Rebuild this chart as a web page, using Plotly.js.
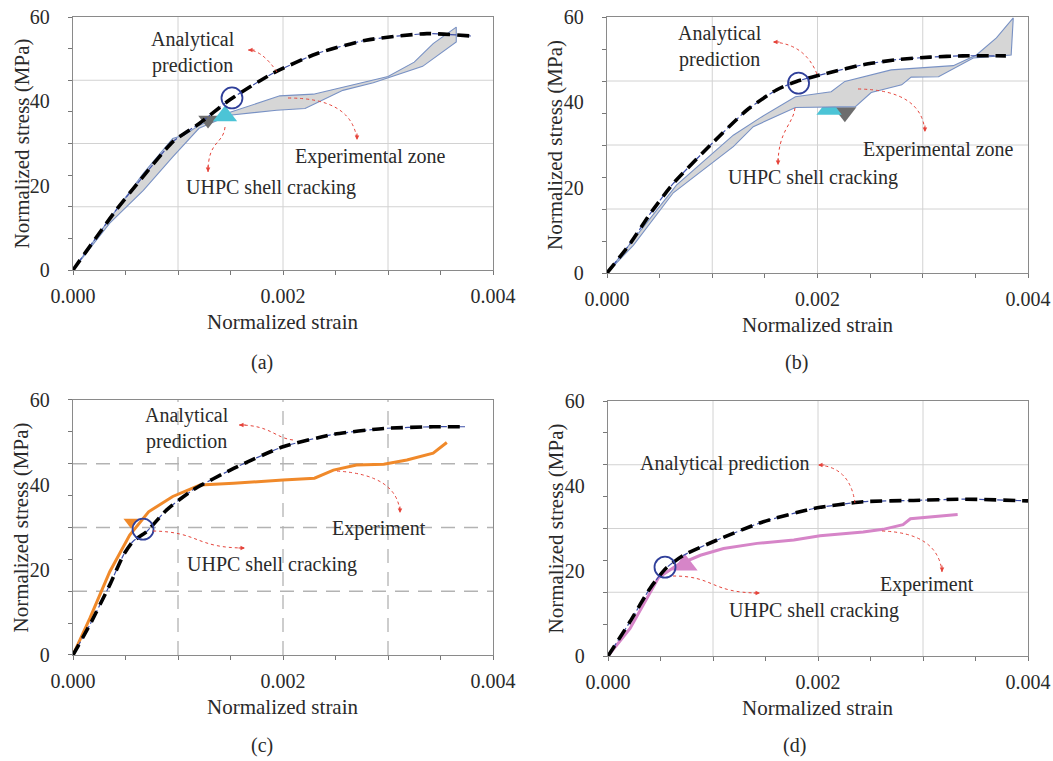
<!DOCTYPE html>
<html>
<head>
<meta charset="utf-8">
<script src="https://cdn.plot.ly/plotly-3.0.1.min.js"></script>
<style>
html,body{margin:0;padding:0;background:#fff;}
#chart{width:1053px;height:761px;}
</style>
</head>
<body>
<div id="chart"></div>
<script>
// ---------------- DATA ----------------
// Panel (a)
const strainA_analytical = [0, 0.00041, 0.00064, 0.00095, 0.0012, 0.00149, 0.0019, 0.00232, 0.00279, 0.00337, 0.00379];
const stressA_analytical = [0, 14.2, 21.3, 30.4, 34.7, 40.3, 46.6, 51.3, 54.5, 56.05, 55.5];
const zoneA_strain = [0, 0.00035, 0.00067, 0.00095, 0.00106, 0.0012, 0.00146, 0.00197, 0.00229, 0.00257, 0.0030, 0.00325, 0.00343, 0.00365, 0.00365,
                      0.00333, 0.00286, 0.00257, 0.00221, 0.00194, 0.00149, 0.0012, 0.00095, 0.00067, 0.00035, 0];
const zoneA_stress = [0, 12.2, 22.9, 31.2, 32.0, 34.3, 37.1, 41.3, 41.7, 43.3, 45.9, 49.3, 53.7, 57.6, 54.1,
                      48.3, 44.4, 42.6, 38.3, 37.9, 36.7, 33.6, 26.8, 18.9, 11.1, 0];
const crackA_strain = [0.001286, 0.001448];
const crackA_stress = [35.6, 36.5];
const predCrackA = {strain: [0.001514], stress: [40.8]};

// Panel (b)
const strainB_analytical = [0, 0.00022, 0.00041, 0.00063, 0.0010, 0.00133, 0.00161, 0.0018, 0.00212, 0.00243, 0.00275, 0.00307, 0.00338, 0.00379];
const stressB_analytical = [0, 6.9, 13.9, 21.0, 30.4, 38.2, 42.9, 44.9, 47.0, 48.8, 50.0, 50.6, 50.9, 50.9];
const zoneB_strain = [0, 0.00025, 0.00066, 0.0012, 0.00145, 0.00179, 0.00213, 0.00226, 0.0027, 0.00329, 0.00351, 0.0037, 0.00386, 0.00384,
                      0.00348, 0.00315, 0.00289, 0.0028, 0.00251, 0.00236, 0.00179, 0.00139, 0.0012, 0.00063, 0.00025, 0];
const zoneB_stress = [0, 7.7, 20.6, 32.3, 36.3, 41.3, 42.5, 44.9, 47.6, 48.6, 51.1, 55.1, 59.8, 51.1,
                      50.4, 46.0, 45.9, 44.1, 42.3, 39.0, 38.8, 34.3, 29.6, 18.8, 6.5, 0];
const crackB_strain = [0.00226, 0.00211];
const crackB_stress = [37.7, 38.4];
const predCrackB = {strain: [0.00182], stress: [44.5]};

// Panel (c)
const strainC_analytical = [0, 0.00016, 0.00035, 0.00048, 0.00057, 0.0007, 0.00089, 0.00114, 0.00153, 0.0020, 0.00248, 0.00296, 0.00343, 0.00374];
const stressC_analytical = [0, 7.1, 16.5, 23.5, 26.7, 29.0, 34.1, 38.8, 43.9, 49.0, 51.9, 53.3, 53.7, 53.7];
const strainC_experiment = [0, 0.00016, 0.00035, 0.00054, 0.00072, 0.00095, 0.00121, 0.00153, 0.0020, 0.0023, 0.00248, 0.0027, 0.00296, 0.00318, 0.00343, 0.00356];
const stressC_experiment = [0, 8.6, 19.6, 28.2, 33.7, 37.3, 40.0, 40.4, 41.2, 41.6, 43.5, 44.7, 44.9, 45.9, 47.5, 50.0];
const crackC = {strain: [0.000552], stress: [31.3]};
const predCrackC = {strain: [0.000667], stress: [29.6]};

// Panel (d)
const strainD_analytical = [0, 0.00021, 0.0004, 0.00055, 0.00072, 0.00104, 0.00148, 0.00196, 0.00243, 0.00291, 0.00338, 0.0040];
const stressD_analytical = [0, 8.1, 15.9, 20.6, 23.7, 27.3, 31.6, 34.7, 36.3, 36.6, 36.9, 36.5];
const strainD_experiment = [0, 0.00021, 0.00048, 0.00066, 0.00088, 0.0011, 0.00142, 0.00177, 0.00202, 0.00243, 0.00262, 0.00281, 0.00288, 0.00306, 0.00333];
const stressD_experiment = [0, 6.5, 18.4, 21.4, 23.7, 25.3, 26.5, 27.3, 28.3, 29.2, 29.8, 30.9, 32.3, 32.7, 33.3];
const crackD = {strain: [0.000733], stress: [21.4]};
const predCrackD = {strain: [0.000543], stress: [20.9]};

// Axis tick labels and titles
const xTickVals = [0, 0.002, 0.004];
const xTickText = ['0.000', '0.002', '0.004'];
const yTickVals = [0, 20, 40, 60];
const yTickText = ['0', '20', '40', '60'];
const xGrid = [0.001, 0.002, 0.003];
const yGrid = [15, 30, 45];
const xTitle = 'Normalized strain';
const yTitle = 'Normalized stress (MPa)';
const panelLabels = ['(a)', '(b)', '(c)', '(d)'];

// ---------------- STYLE ----------------
const FONT = 'Liberation Serif';
const TXT = '#2a2a2a';
const RED = '#e5433a';
const NAVY = '#2f3f9a';
const CYAN = '#4cc4d6';
const GRAYM = '#6d6d6d';
const ZONE_FILL = '#d6d6d6';
const ZONE_LINE = '#7891c4';

const traces = [];
function sfx(i){ return i === 1 ? '' : String(i); }

function analytical(i, xs, ys){
  traces.push({x: xs, y: ys, xaxis: 'x'+sfx(i), yaxis: 'y'+sfx(i), mode: 'lines', line: {color: '#3d4fa8', width: 1.2, shape: 'spline', smoothing: 0.6, dash: '6px,3px'}, hoverinfo: 'skip', showlegend: false});
  traces.push({x: xs, y: ys, xaxis: 'x'+sfx(i), yaxis: 'y'+sfx(i), mode: 'lines', line: {color: '#000', width: 3.6, shape: 'spline', smoothing: 0.6, dash: '12px,7px'}, showlegend: false});
}
function zone(i, xs, ys){
  traces.push({x: xs, y: ys, xaxis: 'x'+sfx(i), yaxis: 'y'+sfx(i), mode: 'lines', fill: 'toself', fillcolor: ZONE_FILL, line: {color: ZONE_LINE, width: 1.1}, showlegend: false});
}
function marker(i, xs, ys, sym, color, size){
  traces.push({x: xs, y: ys, xaxis: 'x'+sfx(i), yaxis: 'y'+sfx(i), mode: 'markers', marker: {symbol: sym, color: color, size: size, line: {width: 0}}, showlegend: false});
}
function circle(i, p){
  traces.push({x: p.strain, y: p.stress, xaxis: 'x'+sfx(i), yaxis: 'y'+sfx(i), mode: 'markers', marker: {symbol: 'circle-open', color: NAVY, size: 21, line: {width: 1.8, color: NAVY}}, showlegend: false});
}
function expLine(i, xs, ys, color){
  traces.push({x: xs, y: ys, xaxis: 'x'+sfx(i), yaxis: 'y'+sfx(i), mode: 'lines', line: {color: color, width: 3}, showlegend: false});
}

// (a)
zone(1, zoneA_strain, zoneA_stress);
marker(1, [crackA_strain[0]], [crackA_stress[0]], 'triangle-down', GRAYM, 17);
marker(1, [crackA_strain[1]], [crackA_stress[1]], 'triangle-up', CYAN, 21);
analytical(1, strainA_analytical, stressA_analytical);
circle(1, predCrackA);
// (b)
marker(2, [crackB_strain[0]], [crackB_stress[0]], 'triangle-down', GRAYM, 20);
marker(2, [crackB_strain[1]], [crackB_stress[1]], 'triangle-up', CYAN, 22);
zone(2, zoneB_strain, zoneB_stress);
analytical(2, strainB_analytical, stressB_analytical);
circle(2, predCrackB);
// (c)
expLine(3, strainC_experiment, stressC_experiment, '#f0892a');
marker(3, crackC.strain, crackC.stress, 'triangle-down', '#f0892a', 13);
analytical(3, strainC_analytical, stressC_analytical);
circle(3, predCrackC);
// (d)
expLine(4, strainD_experiment, stressD_experiment, '#d685c8');
marker(4, crackD.strain, crackD.stress, 'triangle-up', '#d685c8', 22);
analytical(4, strainD_analytical, stressD_analytical);
circle(4, predCrackD);

// ---------------- LAYOUT ----------------
const xDomains = [[0.06933, 0.46819], [0.57645, 0.97626], [0.06933, 0.46819], [0.57740, 0.97626]];
const yDomains = [[0.64520, 0.97766], [0.64126, 0.97766], [0.13929, 0.47438], [0.13798, 0.47306]];
const layout = {
  width: 1053, height: 761,
  margin: {l: 0, r: 0, t: 0, b: 0},
  paper_bgcolor: '#fff', plot_bgcolor: '#fff',
  showlegend: false,
  font: {family: FONT, size: 20, color: TXT},
  shapes: [], annotations: []
};
function axisX(i){
  return {
    domain: xDomains[i-1], anchor: 'y'+sfx(i), range: [0, 0.004], autorange: false,
    tickmode: 'array', tickvals: xTickVals, ticktext: xTickText,
    ticks: '', ticklabelstandoff: 8, showgrid: false, zeroline: false,
    showline: true, mirror: true, linecolor: '#8a8a8a', linewidth: 1.2,
    tickfont: {family: FONT, size: 20, color: TXT},
    minor: {dtick: 0.0005, tick0: 0, ticks: 'outside', ticklen: 4, tickcolor: '#777', tickwidth: 1, showgrid: false},
    fixedrange: true
  };
}
function axisY(i){
  return {
    domain: yDomains[i-1], anchor: 'x'+sfx(i), range: [0, 60], autorange: false,
    tickmode: 'array', tickvals: yTickVals, ticktext: yTickText,
    ticks: '', ticklabelstandoff: 18, showgrid: false, zeroline: false,
    showline: true, mirror: true, linecolor: '#8a8a8a', linewidth: 1.2,
    tickfont: {family: FONT, size: 20, color: TXT},
    minor: {dtick: 7.5, tick0: 0, ticks: 'outside', ticklen: 4, tickcolor: '#777', tickwidth: 1, showgrid: false},
    fixedrange: true
  };
}
for (let i = 1; i <= 4; i++){
  layout['xaxis'+sfx(i)] = axisX(i);
  layout['yaxis'+sfx(i)] = axisY(i);
  const dashed = (i === 3);
  const gl = dashed ? {color: '#b3b3b3', width: 1.3, dash: '14px,9px'} : {color: '#d2d2d2', width: 1};
  yGrid.forEach(v => layout.shapes.push({type: 'line', layer: 'below', xref: 'x'+sfx(i)+' domain', x0: 0, x1: 1, yref: 'y'+sfx(i), y0: v, y1: v, line: gl}));
  xGrid.forEach(v => layout.shapes.push({type: 'line', layer: 'below', yref: 'y'+sfx(i)+' domain', y0: 0, y1: 1, xref: 'x'+sfx(i), x0: v, x1: v, line: gl}));
  // axis titles, placed relative to each axis domain
  layout.annotations.push({xref: 'x'+sfx(i)+' domain', yref: 'y'+sfx(i)+' domain', x: 0.5, y: 0, yshift: -52, text: xTitle, showarrow: false,
    font: {family: FONT, size: 21, color: TXT}, xanchor: 'center', yanchor: 'middle'});
  layout.annotations.push({xref: 'x'+sfx(i)+' domain', yref: 'y'+sfx(i)+' domain', x: 0, y: 0.5, xshift: -52, text: yTitle, showarrow: false, textangle: -90,
    font: {family: FONT, size: 21, color: TXT}, xanchor: 'center', yanchor: 'middle'});
}

// curved red dotted arrows: [panel, path points (data coords), head direction vector (ax, ay in px)]
const arrows = [
  [1, [[0.001943,46.96],[0.0018,52.17],[0.001667,52.17]], 'Q', [8,0]],
  [1, [[0.002048,40.79],[0.002657,40.79],[0.002705,30.83]], 'Q', [0,-8]],
  [1, [[0.001448,33.91],[0.001429,29.64],[0.001286,30.83],[0.001286,23.24]], 'C', [0,-8]],
  [2, [[0.001995,46.64],[0.001881,53.67],[0.001577,54.14]], 'Q', [8,0]],
  [2, [[0.002385,43.13],[0.002993,42.89],[0.003021,33.05]], 'Q', [0,-8]],
  [2, [[0.001786,38.67],[0.001767,34.69],[0.001625,33.52],[0.001625,25.31]], 'C', [0,-8]],
  [3, [[0.002095,50.59],[0.001924,51.06],[0.001876,54.12],[0.001581,54.12]], 'C', [8,0]],
  [3, [[0.002514,43.29],[0.003095,42.35],[0.003114,33.41]], 'Q', [0,-8]],
  [3, [[0.000762,29.18],[0.00121,28.94],[0.001162,25.18],[0.001638,25.18]], 'C', [-8,0]],
  [4, [[0.002352,36.0],[0.002305,44.47],[0.002,44.94]], 'Q', [8,0]],
  [4, [[0.00261,29.41],[0.003143,28.94],[0.003181,19.76]], 'Q', [0,-8]],
  [4, [[0.000619,18.82],[0.001019,18.82],[0.000971,14.82],[0.001448,14.82]], 'C', [-8,0]]
];
arrows.forEach(([p, pts, cmd, dir]) => {
  const s = sfx(p);
  let path = 'M ' + pts[0][0] + ',' + pts[0][1] + ' ' + cmd + ' ' + pts.slice(1).map(q => q[0] + ',' + q[1]).join(' ');
  layout.shapes.push({type: 'path', xref: 'x'+s, yref: 'y'+s, path: path, line: {color: RED, width: 1, dash: 'dot'}});
  const end = pts[pts.length-1];
  layout.annotations.push({xref: 'x'+s, yref: 'y'+s, x: end[0], y: end[1], text: '', showarrow: true,
    arrowhead: 2, arrowsize: 0.9, arrowwidth: 1, arrowcolor: RED, ax: dir[0], ay: dir[1], standoff: 0});
});

// text labels
const labels = [
  [1, 0.001143, 51.7, 'Analytical<br>prediction'],
  [1, 0.002829, 26.8, 'Experimental zone'],
  [1, 0.001886, 19.45, 'UHPC shell cracking'],
  [2, 0.001074, 52.97, 'Analytical<br>prediction'],
  [2, 0.003145, 28.83, 'Experimental zone'],
  [2, 0.001957, 22.5, 'UHPC shell cracking'],
  [3, 0.001086, 53.41, 'Analytical<br>prediction'],
  [3, 0.002914, 29.88, 'Experiment'],
  [3, 0.001895, 21.41, 'UHPC shell cracking'],
  [4, 0.001105, 45.18, 'Analytical prediction'],
  [4, 0.003038, 16.94, 'Experiment'],
  [4, 0.001962, 10.59, 'UHPC shell cracking']
];
labels.forEach(([p, x, y, t]) => {
  const s = sfx(p);
  layout.annotations.push({xref: 'x'+s, yref: 'y'+s, x: x, y: y, text: t, showarrow: false,
    font: {family: FONT, size: 20, color: TXT}, xanchor: 'center', yanchor: 'middle', align: 'center'});
});
// panel captions
const capPos = [[262, 362], [796, 362], [262, 745], [795, 745]];
panelLabels.forEach((t, k) => {
  layout.annotations.push({xref: 'paper', yref: 'paper', x: capPos[k][0]/1053, y: 1 - capPos[k][1]/761, text: t, showarrow: false,
    font: {family: FONT, size: 20, color: TXT}, xanchor: 'center', yanchor: 'middle'});
});

Plotly.newPlot('chart', traces, layout, {staticPlot: true, displayModeBar: false});
</script>
</body>
</html>
